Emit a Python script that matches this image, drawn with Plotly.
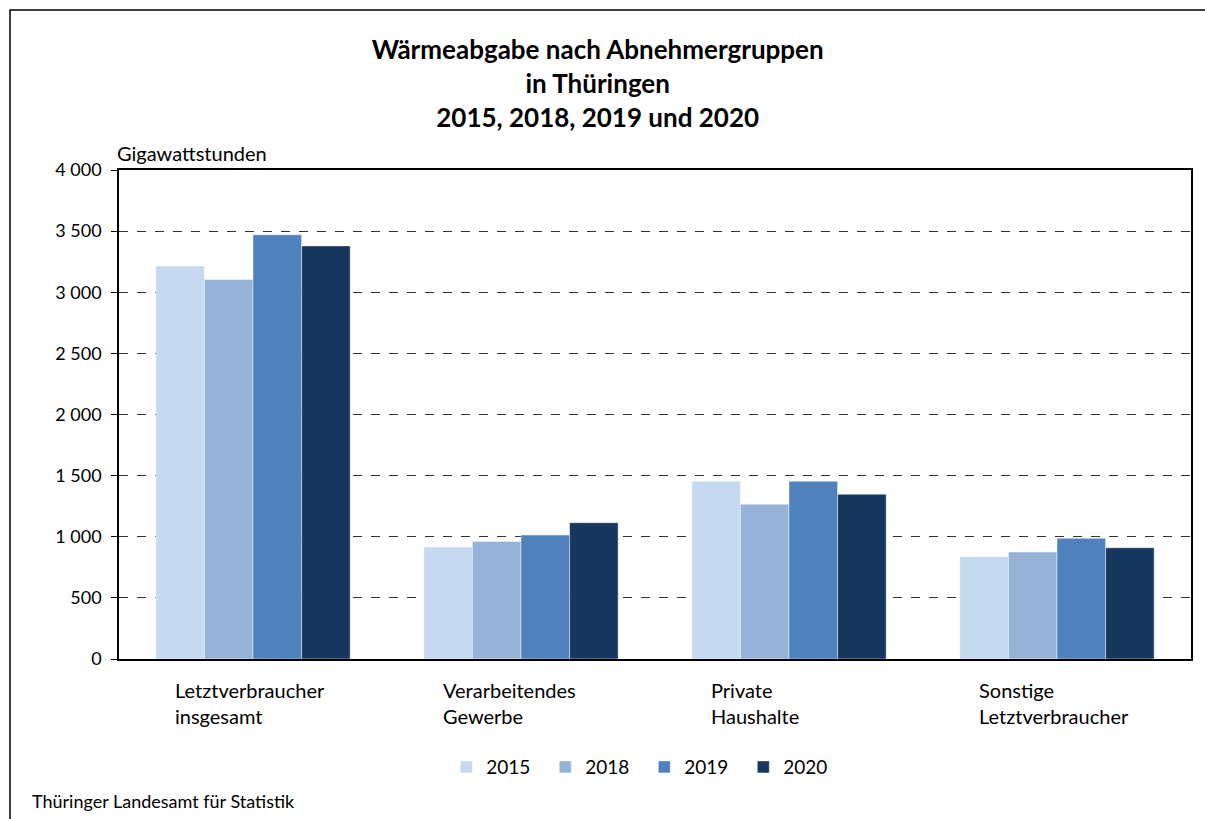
import plotly.graph_objects as go

categories = ["Letztverbraucher<br>insgesamt", "Verarbeitendes<br>Gewerbe", "Private<br>Haushalte", "Sonstige<br>Letztverbraucher"]
cat_keys = ["LV", "VG", "PH", "SL"]
years = ["2015", "2018", "2019", "2020"]
values_2015 = [3215, 916, 1454, 839]
values_2018 = [3105, 962, 1266, 875]
values_2019 = [3470, 1014, 1454, 987]
values_2020 = [3379, 1115, 1348, 910]
series = [values_2015, values_2018, values_2019, values_2020]
colors = ["#C6D9F1", "#95B3D7", "#4F81BD", "#17375E"]
y_ticks = [0, 500, 1000, 1500, 2000, 2500, 3000, 3500, 4000]

FONT = "Lato"

fig = go.Figure()
for yr, vals, col in zip(years, series, colors):
    fig.add_trace(go.Bar(
        name=yr, x=cat_keys, y=vals,
        marker=dict(color=col, line=dict(color="rgba(255,255,255,0.45)", width=1)),
    ))

fig.update_layout(
    width=1205, height=819,
    margin=dict(l=119, r=14, t=170, b=160),
    paper_bgcolor="white", plot_bgcolor="white",
    font=dict(family=FONT, size=18, color="black"),
    separators=", ",
    barmode="group", bargap=0.275, bargroupgap=0,
    showlegend=True,
    legend=dict(orientation="h", x=0.49, xanchor="center", y=-0.221, yanchor="middle",
                entrywidth=54, entrywidthmode="pixels", font=dict(size=19, family=FONT),
                itemclick=False),
    title=dict(text="<b>Wärmeabgabe nach Abnehmergruppen<br>in Thüringen<br>2015, 2018, 2019 und 2020</b>",
               x=0.496, xanchor="center", y=0.928, yanchor="top",
               font=dict(size=26, family=FONT, color="black")),
)

fig.update_xaxes(showticklabels=False, showline=True, linecolor="black", linewidth=1.5,
                 mirror=True, ticks="", showgrid=False)
fig.update_yaxes(range=[0, 4000], tickvals=y_ticks, tickformat=",d",
                 showline=True, linecolor="black", linewidth=1.5, mirror=True,
                 ticks="outside", ticklen=6, tickcolor="black", ticklabelstandoff=6,
                 showgrid=True, gridcolor="#333333", griddash="dash", gridwidth=1,
                 zeroline=False, tickfont=dict(size=18, family=FONT))

for key, label in zip(cat_keys, categories):
    fig.add_annotation(x=key, xref="x", y=-0.035, yref="paper", text=label,
                       showarrow=False, xanchor="left", yanchor="top", align="left",
                       xshift=-80, font=dict(size=20, family=FONT))

fig.add_annotation(x=-0.004, xref="paper", y=1.0, yref="paper", yshift=3,
                   text="Gigawattstunden", showarrow=False, xanchor="left", yanchor="bottom",
                   font=dict(size=20, family=FONT))

fig.add_annotation(x=(30 - 119) / 1072, xref="paper", y=-(801 - 659) / 489, yref="paper",
                   text="Thüringer Landesamt für Statistik",
                   showarrow=False, xanchor="left", yanchor="middle", font=dict(size=18, family=FONT))

fig.add_shape(type="rect", xref="paper", yref="paper",
              x0=(10 - 119) / 1072, x1=(1215 - 119) / 1072,
              y0=-(830 - 659) / 489, y1=1 + (170 - 10) / 489,
              line=dict(color="black", width=1.5), layer="below")

fig.write_html("out.html", config={"displayModeBar": False},
               post_script="document.body.style.margin='0';")
